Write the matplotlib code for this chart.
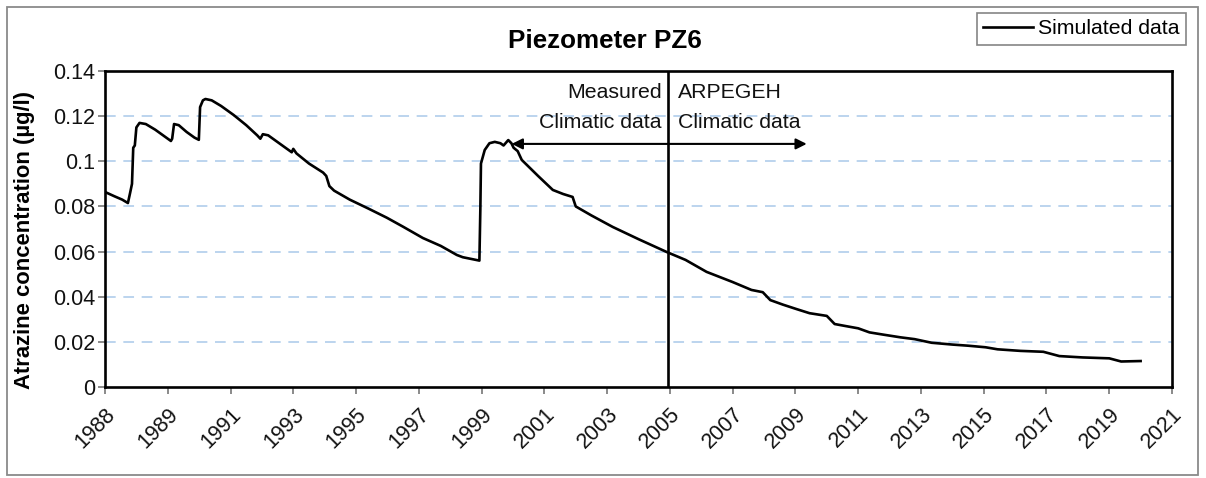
import matplotlib
matplotlib.use("Agg")
import matplotlib.pyplot as plt
from matplotlib.patches import Rectangle
import numpy as np

plt.rcParams['font.family'] = ['Liberation Sans', 'DejaVu Sans']

# Simulated atrazine concentration (µg/l) at piezometer PZ6, time in decimal years
years = [
    1988.00, 1988.30, 1988.55, 1988.73, 1988.80, 1988.86, 1988.90, 1988.95, 1989.00,
    1989.10, 1989.30, 1989.60, 1989.90, 1990.10, 1990.14, 1990.20, 1990.35, 1990.60,
    1990.85, 1990.99, 1991.03, 1991.12, 1991.20, 1991.40, 1991.70, 1992.10, 1992.50,
    1992.85, 1992.95, 1993.03, 1993.20, 1993.60, 1993.95, 1994.00, 1994.10, 1994.50,
    1994.95, 1995.05, 1995.15, 1995.30, 1995.80, 1996.40, 1996.98, 1997.50, 1998.13,
    1998.70, 1999.21, 1999.40, 1999.93, 1999.96, 1999.98, 2000.10, 2000.25, 2000.42,
    2000.60, 2000.70, 2000.85, 2000.95, 2001.02, 2001.15, 2001.28, 2001.80, 2002.27,
    2002.60, 2002.90, 2003.00, 2003.50, 2004.18, 2005.00, 2005.90, 2006.50, 2007.17,
    2008.00, 2008.60, 2008.96, 2009.20, 2009.60, 2010.04, 2010.45, 2011.00, 2011.25,
    2011.60, 2012.00, 2012.36, 2012.80, 2013.35, 2013.80, 2014.34, 2015.00, 2015.50,
    2016.06, 2016.44, 2017.17, 2017.90, 2018.41, 2018.90, 2019.15, 2020.00, 2020.38,
    2021.00,
]
concentration = [
    0.0864, 0.0845, 0.0830, 0.0815, 0.0860, 0.0900, 0.1060, 0.1070, 0.1150,
    0.1170, 0.1165, 0.1140, 0.1110, 0.1090, 0.1100, 0.1165, 0.1160, 0.1130,
    0.1105, 0.1095, 0.1240, 0.1270, 0.1276, 0.1270, 0.1245, 0.1205, 0.1160,
    0.1115, 0.1100, 0.1120, 0.1115, 0.1075, 0.1040, 0.1055, 0.1035, 0.0990,
    0.0950, 0.0935, 0.0890, 0.0870, 0.0830, 0.0790, 0.0750, 0.0710, 0.0660,
    0.0625, 0.0585, 0.0575, 0.0560, 0.0785, 0.0990, 0.1050, 0.1080, 0.1086,
    0.1080, 0.1070, 0.1094, 0.1080, 0.1060, 0.1045, 0.1006, 0.0935, 0.0873,
    0.0855, 0.0842, 0.0800, 0.0760, 0.0709, 0.0655, 0.0598, 0.0563, 0.0510,
    0.0465, 0.0430, 0.0420, 0.0385, 0.0365, 0.0345, 0.0327, 0.0315, 0.0279,
    0.0270, 0.0260, 0.0242, 0.0232, 0.0220, 0.0212, 0.0196, 0.0188, 0.0183,
    0.0176, 0.0167, 0.0160, 0.0156, 0.0137, 0.0133, 0.0131, 0.0127, 0.0113,
    0.0115,
]

# Axis ticks: two-year steps, labelled as in the spreadsheet date axis
tick_years = list(range(1988, 2023, 2))
tick_labels = ['1988', '1989', '1991', '1993', '1995', '1997', '1999', '2001', '2003',
               '2005', '2007', '2009', '2011', '2013', '2015', '2017', '2019', '2021']
y_ticks = [0, 0.02, 0.04, 0.06, 0.08, 0.10, 0.12, 0.14]
y_labels = ['0', '0.02', '0.04', '0.06', '0.08', '0.1', '0.12', '0.14']

# Switch from measured to ARPEGEH climate forcing, and the span of the arrow
switch_year = 2005.93
arrow_start, arrow_end, arrow_level = 2000.96, 2010.36, 0.1077

W, H = 1206, 478
fig = plt.figure(figsize=(W / 100, H / 100), dpi=100)
fig.patch.set_facecolor('white')

ax = fig.add_axes([105 / W, 1 - 387 / H, (1172 - 105) / W, (387 - 71) / H])

ax.plot(years, concentration, color='black', lw=1.9, solid_joinstyle='round',
        label='Simulated data', zorder=4)

ax.set_xlim(1988, 2022)
ax.set_ylim(0, 0.14)
ax.set_xticks(tick_years)
ax.set_xticklabels(tick_labels, rotation=45, ha='right', rotation_mode='anchor',
                   fontsize=15.5, color='#111111')
ax.set_yticks(y_ticks)
ax.set_yticklabels(y_labels, fontsize=15.5, color='#111111')
ax.tick_params(axis='x', direction='out', length=5, width=1.2, color='#777777', pad=7)
ax.tick_params(axis='y', direction='out', length=5, width=1.2, color='#777777', pad=2)

for s in ax.spines.values():
    s.set_linewidth(1.9)
    s.set_color('black')

# Dashed horizontal gridlines
for yv in y_ticks[1:-1]:
    ax.axhline(yv, color='#a9c9ea', lw=1.1, ls=(0, (7, 5)), zorder=1)

# Climate data boundary
ax.axvline(switch_year, color='black', lw=1.9, zorder=3)

ax.annotate('', xy=(arrow_start, arrow_level), xytext=(arrow_end, arrow_level),
            arrowprops=dict(arrowstyle='<|-|>', color='black', lw=1.5,
                            mutation_scale=16, shrinkA=0, shrinkB=0), zorder=5)

ax.text(2005.74, 0.1303, 'Measured', ha='right', va='center', fontsize=15.3, color='#111111')
ax.text(2005.74, 0.1174, 'Climatic data', ha='right', va='center', fontsize=15.3, color='#111111')
ax.text(2006.25, 0.1303, 'ARPEGEH', ha='left', va='center', fontsize=15.3, color='#111111')
ax.text(2006.25, 0.1174, 'Climatic data', ha='left', va='center', fontsize=15.3, color='#111111')

fig.text(605 / W, 1 - 41 / H, 'Piezometer PZ6', ha='center', va='center',
         fontsize=18.7, fontweight='bold')
fig.text(25 / W, 1 - 240 / H, 'Atrazine concentration (µg/l)', rotation=90,
         ha='center', va='center', fontsize=15.8, fontweight='bold')

leg = fig.legend(loc='upper right', bbox_to_anchor=(1186 / W, 1 - 13 / H),
                 bbox_transform=fig.transFigure, fontsize=15.3, frameon=True,
                 fancybox=False, edgecolor='#666666', borderpad=0.3,
                 handlelength=2.35, handletextpad=0.25, borderaxespad=0)
leg.get_frame().set_linewidth(1.2)

# Outer chart frame
fig.patches.append(Rectangle((7 / W, 3 / H), (1198 - 7) / W, (471 - 3) / H,
                             transform=fig.transFigure, fill=False,
                             edgecolor='#8a8a8a', lw=1.3))

fig.savefig('out.png', dpi=100, facecolor='white')
